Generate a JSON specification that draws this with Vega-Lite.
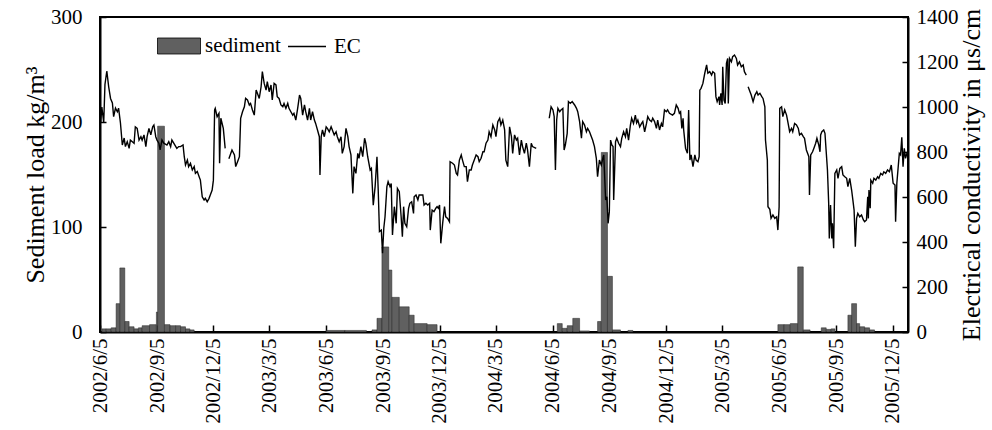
{
"$schema": "https://vega.github.io/schema/vega-lite/v6.json",
"width": 808, "height": 315,
"autosize": "none",
"padding": {"left": 100, "top": 17, "right": 84, "bottom": 98},
"config": {"font": "Liberation Serif", "view": {"stroke": "#000", "strokeWidth": 2},
  "axis": {"labelFont": "Liberation Serif", "titleFont": "Liberation Serif", "labelColor": "#000", "titleColor": "#000", "tickColor": "#000", "domainColor": "#000", "domainWidth": 2, "tickWidth": 1.5, "grid": false, "labelFlush": false, "labelOverlap": false, "titleFontWeight": "normal", "labelFontSize": 21, "titleFontSize": 26}},
"datasets": {
"ec": [
{"date":"2002-06-05","ec":1010,"seg":1},{"date":"2002-06-06","ec":930,"seg":1},{"date":"2002-06-08","ec":1000,"seg":1},{"date":"2002-06-11","ec":930,"seg":1},{"date":"2002-06-13","ec":1100,"seg":1},{"date":"2002-06-16","ec":1160,"seg":1},{"date":"2002-06-19","ec":1090,"seg":1},{"date":"2002-06-22","ec":1038,"seg":1},{"date":"2002-06-25","ec":1018,"seg":1},{"date":"2002-06-27","ec":957,"seg":1},{"date":"2002-06-30","ec":995,"seg":1},{"date":"2002-07-03","ec":979,"seg":1},{"date":"2002-07-05","ec":995,"seg":1},{"date":"2002-07-08","ec":929,"seg":1},{"date":"2002-07-11","ec":831,"seg":1},{"date":"2002-07-14","ec":862,"seg":1},{"date":"2002-07-16","ec":824,"seg":1},{"date":"2002-07-19","ec":846,"seg":1},{"date":"2002-07-22","ec":816,"seg":1},{"date":"2002-07-24","ec":853,"seg":1},{"date":"2002-07-30","ec":839,"seg":1},{"date":"2002-08-01","ec":912,"seg":1},{"date":"2002-08-04","ec":905,"seg":1},{"date":"2002-08-07","ec":853,"seg":1},{"date":"2002-08-10","ec":868,"seg":1},{"date":"2002-08-12","ec":853,"seg":1},{"date":"2002-08-15","ec":876,"seg":1},{"date":"2002-08-18","ec":824,"seg":1},{"date":"2002-08-20","ec":868,"seg":1},{"date":"2002-08-23","ec":905,"seg":1},{"date":"2002-08-26","ec":876,"seg":1},{"date":"2002-08-29","ec":912,"seg":1},{"date":"2002-08-31","ec":920,"seg":1},{"date":"2002-09-03","ec":868,"seg":1},{"date":"2002-09-05","ec":853,"seg":1},{"date":"2002-09-08","ec":839,"seg":1},{"date":"2002-09-10","ec":809,"seg":1},{"date":"2002-09-13","ec":853,"seg":1},{"date":"2002-09-16","ec":839,"seg":1},{"date":"2002-09-21","ec":831,"seg":1},{"date":"2002-09-24","ec":846,"seg":1},{"date":"2002-09-27","ec":824,"seg":1},{"date":"2002-09-29","ec":853,"seg":1},{"date":"2002-10-02","ec":839,"seg":1},{"date":"2002-10-07","ec":816,"seg":1},{"date":"2002-10-10","ec":824,"seg":1},{"date":"2002-10-13","ec":824,"seg":1},{"date":"2002-10-17","ec":831,"seg":1},{"date":"2002-10-19","ec":779,"seg":1},{"date":"2002-10-21","ec":742,"seg":1},{"date":"2002-10-24","ec":764,"seg":1},{"date":"2002-10-26","ec":735,"seg":1},{"date":"2002-10-29","ec":750,"seg":1},{"date":"2002-11-01","ec":720,"seg":1},{"date":"2002-11-04","ec":735,"seg":1},{"date":"2002-11-06","ec":705,"seg":1},{"date":"2002-11-09","ec":713,"seg":1},{"date":"2002-11-12","ec":690,"seg":1},{"date":"2002-11-14","ec":675,"seg":1},{"date":"2002-11-17","ec":601,"seg":1},{"date":"2002-11-20","ec":587,"seg":1},{"date":"2002-11-22","ec":594,"seg":1},{"date":"2002-11-25","ec":579,"seg":1},{"date":"2002-11-28","ec":594,"seg":1},{"date":"2002-11-30","ec":609,"seg":1},{"date":"2002-12-03","ec":631,"seg":1},{"date":"2002-12-05","ec":675,"seg":1},{"date":"2002-12-07","ec":987,"seg":1},{"date":"2002-12-08","ec":994,"seg":1},{"date":"2002-12-11","ec":957,"seg":1},{"date":"2002-12-14","ec":972,"seg":1},{"date":"2002-12-15","ec":750,"seg":1},{"date":"2002-12-17","ec":950,"seg":1},{"date":"2002-12-21","ec":905,"seg":1},{"date":"2002-12-24","ec":816,"seg":1},
{"date":"2002-12-30","ec":770,"seg":2},{"date":"2003-01-04","ec":809,"seg":2},{"date":"2003-01-08","ec":787,"seg":2},{"date":"2003-01-10","ec":735,"seg":2},{"date":"2003-01-13","ec":757,"seg":2},{"date":"2003-01-16","ec":779,"seg":2},{"date":"2003-01-18","ec":950,"seg":2},{"date":"2003-01-21","ec":979,"seg":2},{"date":"2003-01-24","ec":1001,"seg":2},{"date":"2003-01-26","ec":1038,"seg":2},{"date":"2003-01-29","ec":1031,"seg":2},{"date":"2003-02-01","ec":1009,"seg":2},{"date":"2003-02-03","ec":1016,"seg":2},{"date":"2003-02-06","ec":987,"seg":2},{"date":"2003-02-09","ec":964,"seg":2},{"date":"2003-02-12","ec":1075,"seg":2},{"date":"2003-02-14","ec":1061,"seg":2},{"date":"2003-02-17","ec":1038,"seg":2},{"date":"2003-02-20","ec":1090,"seg":2},{"date":"2003-02-22","ec":1157,"seg":2},{"date":"2003-02-25","ec":1105,"seg":2},{"date":"2003-02-28","ec":1075,"seg":2},{"date":"2003-03-02","ec":1113,"seg":2},{"date":"2003-03-05","ec":1068,"seg":2},{"date":"2003-03-08","ec":1098,"seg":2},{"date":"2003-03-10","ec":1031,"seg":2},{"date":"2003-03-13","ec":1105,"seg":2},{"date":"2003-03-16","ec":1098,"seg":2},{"date":"2003-03-18","ec":1046,"seg":2},{"date":"2003-03-21","ec":1038,"seg":2},{"date":"2003-03-24","ec":1009,"seg":2},{"date":"2003-03-27","ec":1001,"seg":2},{"date":"2003-03-29","ec":1016,"seg":2},{"date":"2003-04-01","ec":994,"seg":2},{"date":"2003-04-04","ec":1016,"seg":2},{"date":"2003-04-06","ec":994,"seg":2},{"date":"2003-04-09","ec":979,"seg":2},{"date":"2003-04-12","ec":964,"seg":2},{"date":"2003-04-14","ec":972,"seg":2},{"date":"2003-04-17","ec":942,"seg":2},{"date":"2003-04-20","ec":994,"seg":2},{"date":"2003-04-23","ec":1053,"seg":2},{"date":"2003-04-25","ec":1038,"seg":2},{"date":"2003-04-28","ec":964,"seg":2},{"date":"2003-05-01","ec":1009,"seg":2},{"date":"2003-05-03","ec":979,"seg":2},{"date":"2003-05-06","ec":942,"seg":2},{"date":"2003-05-09","ec":994,"seg":2},{"date":"2003-05-11","ec":942,"seg":2},{"date":"2003-05-14","ec":979,"seg":2},{"date":"2003-05-17","ec":942,"seg":2},{"date":"2003-05-19","ec":927,"seg":2},{"date":"2003-05-22","ec":898,"seg":2},{"date":"2003-05-25","ec":868,"seg":2},{"date":"2003-05-26","ec":698,"seg":2},{"date":"2003-05-28","ec":868,"seg":2},{"date":"2003-05-30","ec":898,"seg":2},{"date":"2003-06-02","ec":868,"seg":2},{"date":"2003-06-05","ec":912,"seg":2},{"date":"2003-06-07","ec":905,"seg":2},{"date":"2003-06-10","ec":890,"seg":2},{"date":"2003-06-13","ec":912,"seg":2},{"date":"2003-06-15","ec":898,"seg":2},{"date":"2003-06-18","ec":876,"seg":2},{"date":"2003-06-21","ec":890,"seg":2},{"date":"2003-06-23","ec":868,"seg":2},{"date":"2003-06-26","ec":846,"seg":2},{"date":"2003-06-29","ec":868,"seg":2},{"date":"2003-07-01","ec":794,"seg":2},{"date":"2003-07-04","ec":824,"seg":2},{"date":"2003-07-07","ec":905,"seg":2},{"date":"2003-07-10","ec":868,"seg":2},{"date":"2003-07-12","ec":824,"seg":2},{"date":"2003-07-15","ec":787,"seg":2},{"date":"2003-07-18","ec":616,"seg":2},{"date":"2003-07-20","ec":735,"seg":2},{"date":"2003-07-23","ec":705,"seg":2},{"date":"2003-07-26","ec":794,"seg":2},{"date":"2003-07-28","ec":772,"seg":2},{"date":"2003-07-31","ec":824,"seg":2},{"date":"2003-08-03","ec":779,"seg":2},{"date":"2003-08-06","ec":861,"seg":2},{"date":"2003-08-08","ec":839,"seg":2},{"date":"2003-08-11","ec":779,"seg":2},{"date":"2003-08-15","ec":720,"seg":2},{"date":"2003-08-17","ec":727,"seg":2},{"date":"2003-08-20","ec":564,"seg":2},{"date":"2003-08-23","ec":646,"seg":2},{"date":"2003-08-26","ec":779,"seg":2},{"date":"2003-08-28","ec":631,"seg":2},{"date":"2003-08-30","ec":446,"seg":2},{"date":"2003-09-02","ec":453,"seg":2},{"date":"2003-09-04","ec":350,"seg":2},{"date":"2003-09-06","ec":461,"seg":2},{"date":"2003-09-08","ec":512,"seg":2},{"date":"2003-09-11","ec":646,"seg":2},{"date":"2003-09-13","ec":668,"seg":2},{"date":"2003-09-16","ec":646,"seg":2},{"date":"2003-09-18","ec":660,"seg":2},{"date":"2003-09-20","ec":431,"seg":2},{"date":"2003-09-23","ec":557,"seg":2},{"date":"2003-09-26","ec":483,"seg":2},{"date":"2003-09-28","ec":638,"seg":2},{"date":"2003-10-01","ec":624,"seg":2},{"date":"2003-10-04","ec":512,"seg":2},{"date":"2003-10-06","ec":424,"seg":2},{"date":"2003-10-08","ec":557,"seg":2},{"date":"2003-10-10","ec":483,"seg":2},{"date":"2003-10-13","ec":468,"seg":2},{"date":"2003-10-16","ec":550,"seg":2},{"date":"2003-10-18","ec":572,"seg":2},{"date":"2003-10-21","ec":579,"seg":2},{"date":"2003-10-24","ec":527,"seg":2},{"date":"2003-10-25","ec":601,"seg":2},{"date":"2003-10-28","ec":609,"seg":2},{"date":"2003-10-31","ec":587,"seg":2},{"date":"2003-11-02","ec":609,"seg":2},{"date":"2003-11-08","ec":609,"seg":2},{"date":"2003-11-10","ec":564,"seg":2},{"date":"2003-11-13","ec":572,"seg":2},{"date":"2003-11-16","ec":564,"seg":2},{"date":"2003-11-19","ec":572,"seg":2},{"date":"2003-11-20","ec":453,"seg":2},{"date":"2003-11-23","ec":542,"seg":2},{"date":"2003-11-26","ec":535,"seg":2},{"date":"2003-11-29","ec":550,"seg":2},{"date":"2003-12-01","ec":557,"seg":2},{"date":"2003-12-03","ec":550,"seg":2},{"date":"2003-12-05","ec":564,"seg":2},{"date":"2003-12-07","ec":394,"seg":2},{"date":"2003-12-10","ec":483,"seg":2},{"date":"2003-12-13","ec":557,"seg":2},{"date":"2003-12-15","ec":512,"seg":2},{"date":"2003-12-18","ec":505,"seg":2},{"date":"2003-12-21","ec":490,"seg":2},{"date":"2003-12-22","ec":757,"seg":2},{"date":"2003-12-26","ec":750,"seg":2},{"date":"2003-12-29","ec":742,"seg":2},{"date":"2004-01-01","ec":705,"seg":2},{"date":"2004-01-03","ec":698,"seg":2},{"date":"2004-01-06","ec":764,"seg":2},{"date":"2004-01-09","ec":787,"seg":2},{"date":"2004-01-11","ec":764,"seg":2},{"date":"2004-01-14","ec":735,"seg":2},{"date":"2004-01-17","ec":735,"seg":2},{"date":"2004-01-19","ec":668,"seg":2},{"date":"2004-01-22","ec":720,"seg":2},{"date":"2004-01-25","ec":720,"seg":2},{"date":"2004-01-27","ec":742,"seg":2},{"date":"2004-01-30","ec":764,"seg":2},{"date":"2004-02-02","ec":787,"seg":2},{"date":"2004-02-05","ec":779,"seg":2},{"date":"2004-02-07","ec":757,"seg":2},{"date":"2004-02-10","ec":772,"seg":2},{"date":"2004-02-13","ec":801,"seg":2},{"date":"2004-02-15","ec":801,"seg":2},{"date":"2004-02-18","ec":839,"seg":2},{"date":"2004-02-21","ec":853,"seg":2},{"date":"2004-02-23","ec":890,"seg":2},{"date":"2004-02-26","ec":868,"seg":2},{"date":"2004-02-29","ec":920,"seg":2},{"date":"2004-03-03","ec":898,"seg":2},{"date":"2004-03-05","ec":868,"seg":2},{"date":"2004-03-08","ec":935,"seg":2},{"date":"2004-03-11","ec":950,"seg":2},{"date":"2004-03-13","ec":920,"seg":2},{"date":"2004-03-16","ec":942,"seg":2},{"date":"2004-03-19","ec":898,"seg":2},{"date":"2004-03-21","ec":764,"seg":2},{"date":"2004-03-24","ec":735,"seg":2},{"date":"2004-03-27","ec":912,"seg":2},{"date":"2004-03-30","ec":868,"seg":2},{"date":"2004-04-01","ec":794,"seg":2},{"date":"2004-04-04","ec":876,"seg":2},{"date":"2004-04-07","ec":853,"seg":2},{"date":"2004-04-09","ec":861,"seg":2},{"date":"2004-04-12","ec":787,"seg":2},{"date":"2004-04-15","ec":853,"seg":2},{"date":"2004-04-17","ec":824,"seg":2},{"date":"2004-04-20","ec":794,"seg":2},{"date":"2004-04-23","ec":839,"seg":2},{"date":"2004-04-25","ec":809,"seg":2},{"date":"2004-04-28","ec":735,"seg":2},{"date":"2004-05-01","ec":839,"seg":2},{"date":"2004-05-03","ec":824,"seg":2},{"date":"2004-05-09","ec":816,"seg":2},
{"date":"2004-05-30","ec":950,"seg":3},{"date":"2004-06-02","ec":1001,"seg":3},{"date":"2004-06-05","ec":987,"seg":3},{"date":"2004-06-07","ec":957,"seg":3},{"date":"2004-06-09","ec":720,"seg":3},{"date":"2004-06-11","ec":942,"seg":3},{"date":"2004-06-13","ec":994,"seg":3},{"date":"2004-06-16","ec":979,"seg":3},{"date":"2004-06-18","ec":987,"seg":3},{"date":"2004-06-21","ec":994,"seg":3},{"date":"2004-06-23","ec":809,"seg":3},{"date":"2004-06-25","ec":831,"seg":3},{"date":"2004-06-28","ec":883,"seg":3},{"date":"2004-06-30","ec":1024,"seg":3},{"date":"2004-07-03","ec":1016,"seg":3},{"date":"2004-07-06","ec":1024,"seg":3},{"date":"2004-07-10","ec":1009,"seg":3},{"date":"2004-07-13","ec":994,"seg":3},{"date":"2004-07-15","ec":979,"seg":3},{"date":"2004-07-18","ec":935,"seg":3},{"date":"2004-07-21","ec":861,"seg":3},{"date":"2004-07-23","ec":935,"seg":3},{"date":"2004-07-26","ec":920,"seg":3},{"date":"2004-07-29","ec":890,"seg":3},{"date":"2004-07-31","ec":905,"seg":3},{"date":"2004-08-03","ec":890,"seg":3},{"date":"2004-08-06","ec":868,"seg":3},{"date":"2004-08-08","ec":853,"seg":3},{"date":"2004-08-11","ec":824,"seg":3},{"date":"2004-08-14","ec":772,"seg":3},{"date":"2004-08-16","ec":690,"seg":3},{"date":"2004-08-19","ec":764,"seg":3},{"date":"2004-08-22","ec":742,"seg":3},{"date":"2004-08-25","ec":779,"seg":3},{"date":"2004-08-26","ec":787,"seg":3},{"date":"2004-08-29","ec":587,"seg":3},{"date":"2004-08-31","ec":601,"seg":3},{"date":"2004-09-02","ec":483,"seg":3},{"date":"2004-09-04","ec":535,"seg":3},{"date":"2004-09-06","ec":853,"seg":3},{"date":"2004-09-08","ec":831,"seg":3},{"date":"2004-09-10","ec":824,"seg":3},{"date":"2004-09-11","ec":587,"seg":3},{"date":"2004-09-14","ec":846,"seg":3},{"date":"2004-09-16","ec":861,"seg":3},{"date":"2004-09-19","ec":839,"seg":3},{"date":"2004-09-22","ec":824,"seg":3},{"date":"2004-09-24","ec":861,"seg":3},{"date":"2004-09-27","ec":890,"seg":3},{"date":"2004-09-30","ec":868,"seg":3},{"date":"2004-10-02","ec":905,"seg":3},{"date":"2004-10-05","ec":853,"seg":3},{"date":"2004-10-08","ec":920,"seg":3},{"date":"2004-10-10","ec":950,"seg":3},{"date":"2004-10-13","ec":927,"seg":3},{"date":"2004-10-16","ec":964,"seg":3},{"date":"2004-10-18","ec":930,"seg":3},{"date":"2004-10-20","ec":942,"seg":3},{"date":"2004-10-23","ec":912,"seg":3},{"date":"2004-10-26","ec":927,"seg":3},{"date":"2004-10-28","ec":935,"seg":3},{"date":"2004-10-31","ec":890,"seg":3},{"date":"2004-11-03","ec":927,"seg":3},{"date":"2004-11-05","ec":957,"seg":3},{"date":"2004-11-08","ec":942,"seg":3},{"date":"2004-11-11","ec":935,"seg":3},{"date":"2004-11-13","ec":950,"seg":3},{"date":"2004-11-16","ec":935,"seg":3},{"date":"2004-11-19","ec":905,"seg":3},{"date":"2004-11-21","ec":942,"seg":3},{"date":"2004-11-24","ec":898,"seg":3},{"date":"2004-11-27","ec":927,"seg":3},{"date":"2004-11-29","ec":912,"seg":3},{"date":"2004-12-02","ec":987,"seg":3},{"date":"2004-12-05","ec":979,"seg":3},{"date":"2004-12-07","ec":987,"seg":3},{"date":"2004-12-10","ec":972,"seg":3},{"date":"2004-12-15","ec":964,"seg":3},{"date":"2004-12-18","ec":972,"seg":3},{"date":"2004-12-21","ec":1009,"seg":3},{"date":"2004-12-24","ec":994,"seg":3},{"date":"2004-12-26","ec":972,"seg":3},{"date":"2004-12-28","ec":979,"seg":3},{"date":"2004-12-30","ec":905,"seg":3},{"date":"2005-01-01","ec":950,"seg":3},{"date":"2005-01-02","ec":898,"seg":3},{"date":"2005-01-05","ec":816,"seg":3},{"date":"2005-01-06","ec":809,"seg":3},{"date":"2005-01-08","ec":794,"seg":3},{"date":"2005-01-10","ec":987,"seg":3},{"date":"2005-01-12","ec":764,"seg":3},{"date":"2005-01-14","ec":787,"seg":3},{"date":"2005-01-17","ec":735,"seg":3},{"date":"2005-01-20","ec":787,"seg":3},{"date":"2005-01-22","ec":764,"seg":3},{"date":"2005-01-25","ec":757,"seg":3},{"date":"2005-01-27","ec":779,"seg":3},{"date":"2005-01-28","ec":1075,"seg":3},{"date":"2005-01-30","ec":1083,"seg":3},{"date":"2005-02-02","ec":1105,"seg":3},{"date":"2005-02-05","ec":1150,"seg":3},{"date":"2005-02-08","ec":1187,"seg":3},{"date":"2005-02-10","ec":1150,"seg":3},{"date":"2005-02-13","ec":1157,"seg":3},{"date":"2005-02-16","ec":1142,"seg":3},{"date":"2005-02-18","ec":1157,"seg":3},{"date":"2005-02-21","ec":1150,"seg":3},{"date":"2005-02-23","ec":1046,"seg":3},{"date":"2005-02-25","ec":1024,"seg":3},{"date":"2005-02-28","ec":1046,"seg":3},{"date":"2005-03-01","ec":1009,"seg":3},{"date":"2005-03-03","ec":1061,"seg":3},{"date":"2005-03-05","ec":1009,"seg":3},{"date":"2005-03-06","ec":1179,"seg":3},{"date":"2005-03-08","ec":1031,"seg":3},{"date":"2005-03-10","ec":1016,"seg":3},{"date":"2005-03-12","ec":1194,"seg":3},{"date":"2005-03-14","ec":1216,"seg":3},{"date":"2005-03-15","ec":1016,"seg":3},{"date":"2005-03-17","ec":1216,"seg":3},{"date":"2005-03-20","ec":1201,"seg":3},{"date":"2005-03-22","ec":1224,"seg":3},{"date":"2005-03-25","ec":1231,"seg":3},{"date":"2005-03-28","ec":1216,"seg":3},{"date":"2005-03-30","ec":1187,"seg":3},{"date":"2005-04-02","ec":1201,"seg":3},{"date":"2005-04-05","ec":1179,"seg":3},{"date":"2005-04-08","ec":1187,"seg":3},{"date":"2005-04-10","ec":1157,"seg":3},{"date":"2005-04-13","ec":1142,"seg":3},
{"date":"2005-04-16","ec":1090,"seg":4},{"date":"2005-04-19","ec":1068,"seg":4},{"date":"2005-04-21","ec":1053,"seg":4},{"date":"2005-04-24","ec":1024,"seg":4},{"date":"2005-04-27","ec":1053,"seg":4},{"date":"2005-04-30","ec":1068,"seg":4},{"date":"2005-05-02","ec":1053,"seg":4},{"date":"2005-05-05","ec":1061,"seg":4},{"date":"2005-05-08","ec":1046,"seg":4},{"date":"2005-05-10","ec":1038,"seg":4},{"date":"2005-05-13","ec":1001,"seg":4},{"date":"2005-05-14","ec":853,"seg":4},{"date":"2005-05-17","ec":764,"seg":4},{"date":"2005-05-18","ec":557,"seg":4},{"date":"2005-05-21","ec":545,"seg":4},{"date":"2005-05-23","ec":505,"seg":4},{"date":"2005-05-26","ec":520,"seg":4},{"date":"2005-05-29","ec":505,"seg":4},{"date":"2005-06-01","ec":512,"seg":4},{"date":"2005-06-03","ec":453,"seg":4},{"date":"2005-06-05","ec":557,"seg":4},{"date":"2005-06-06","ec":994,"seg":4},{"date":"2005-06-09","ec":1001,"seg":4},{"date":"2005-06-11","ec":957,"seg":4},{"date":"2005-06-14","ec":987,"seg":4},{"date":"2005-06-17","ec":964,"seg":4},{"date":"2005-06-19","ec":935,"seg":4},{"date":"2005-06-22","ec":890,"seg":4},{"date":"2005-06-25","ec":905,"seg":4},{"date":"2005-06-27","ec":890,"seg":4},{"date":"2005-06-30","ec":927,"seg":4},{"date":"2005-07-03","ec":920,"seg":4},{"date":"2005-07-06","ec":905,"seg":4},{"date":"2005-07-08","ec":876,"seg":4},{"date":"2005-07-11","ec":883,"seg":4},{"date":"2005-07-14","ec":868,"seg":4},{"date":"2005-07-16","ec":861,"seg":4},{"date":"2005-07-19","ec":809,"seg":4},{"date":"2005-07-22","ec":787,"seg":4},{"date":"2005-07-23","ec":779,"seg":4},{"date":"2005-07-24","ec":609,"seg":4},{"date":"2005-07-26","ec":787,"seg":4},{"date":"2005-07-29","ec":801,"seg":4},{"date":"2005-07-31","ec":816,"seg":4},{"date":"2005-08-03","ec":839,"seg":4},{"date":"2005-08-05","ec":861,"seg":4},{"date":"2005-08-08","ec":831,"seg":4},{"date":"2005-08-10","ec":801,"seg":4},{"date":"2005-08-11","ec":876,"seg":4},{"date":"2005-08-13","ec":890,"seg":4},{"date":"2005-08-16","ec":898,"seg":4},{"date":"2005-08-18","ec":883,"seg":4},{"date":"2005-08-20","ec":801,"seg":4},{"date":"2005-08-22","ec":720,"seg":4},{"date":"2005-08-24","ec":572,"seg":4},{"date":"2005-08-25","ec":416,"seg":4},{"date":"2005-08-27","ec":564,"seg":4},{"date":"2005-08-29","ec":416,"seg":4},{"date":"2005-08-30","ec":483,"seg":4},{"date":"2005-09-01","ec":372,"seg":4},{"date":"2005-09-03","ec":705,"seg":4},{"date":"2005-09-06","ec":720,"seg":4},{"date":"2005-09-08","ec":683,"seg":4},{"date":"2005-09-11","ec":727,"seg":4},{"date":"2005-09-14","ec":735,"seg":4},{"date":"2005-09-16","ec":698,"seg":4},{"date":"2005-09-19","ec":690,"seg":4},{"date":"2005-09-22","ec":683,"seg":4},{"date":"2005-09-24","ec":646,"seg":4},{"date":"2005-09-27","ec":683,"seg":4},{"date":"2005-09-30","ec":631,"seg":4},{"date":"2005-10-02","ec":587,"seg":4},{"date":"2005-10-04","ec":542,"seg":4},{"date":"2005-10-06","ec":379,"seg":4},{"date":"2005-10-08","ec":505,"seg":4},{"date":"2005-10-10","ec":527,"seg":4},{"date":"2005-10-13","ec":512,"seg":4},{"date":"2005-10-16","ec":520,"seg":4},{"date":"2005-10-19","ec":498,"seg":4},{"date":"2005-10-21","ec":490,"seg":4},{"date":"2005-10-24","ec":498,"seg":4},{"date":"2005-10-26","ec":601,"seg":4},{"date":"2005-10-27","ec":505,"seg":4},{"date":"2005-10-28","ec":631,"seg":4},{"date":"2005-10-30","ec":550,"seg":4},{"date":"2005-10-31","ec":675,"seg":4},{"date":"2005-11-03","ec":661,"seg":4},{"date":"2005-11-05","ec":683,"seg":4},{"date":"2005-11-08","ec":675,"seg":4},{"date":"2005-11-11","ec":690,"seg":4},{"date":"2005-11-13","ec":683,"seg":4},{"date":"2005-11-16","ec":705,"seg":4},{"date":"2005-11-19","ec":698,"seg":4},{"date":"2005-11-21","ec":712,"seg":4},{"date":"2005-11-24","ec":705,"seg":4},{"date":"2005-11-27","ec":720,"seg":4},{"date":"2005-11-30","ec":712,"seg":4},{"date":"2005-12-03","ec":742,"seg":4},{"date":"2005-12-06","ec":661,"seg":4},{"date":"2005-12-09","ec":653,"seg":4},{"date":"2005-12-10","ec":490,"seg":4},{"date":"2005-12-12","ec":661,"seg":4},{"date":"2005-12-16","ec":794,"seg":4},{"date":"2005-12-18","ec":787,"seg":4},{"date":"2005-12-20","ec":865,"seg":4},{"date":"2005-12-22","ec":735,"seg":4},{"date":"2005-12-24","ec":816,"seg":4},{"date":"2005-12-26","ec":772,"seg":4},{"date":"2005-12-29","ec":801,"seg":4}
],
"sed": [
{"date":"2002-06-08","end":"2002-06-15","sed":3},{"date":"2002-06-15","end":"2002-06-23","sed":3},{"date":"2002-06-23","end":"2002-07-01","sed":4},{"date":"2002-07-01","end":"2002-07-07","sed":27},{"date":"2002-07-07","end":"2002-07-15","sed":61},{"date":"2002-07-15","end":"2002-07-22","sed":10},{"date":"2002-07-22","end":"2002-07-30","sed":5},{"date":"2002-07-30","end":"2002-08-06","sed":3},{"date":"2002-08-06","end":"2002-08-12","sed":4},{"date":"2002-08-12","end":"2002-08-24","sed":6},{"date":"2002-08-24","end":"2002-09-04","sed":7},{"date":"2002-09-04","end":"2002-09-06","sed":19},{"date":"2002-09-06","end":"2002-09-17","sed":196},{"date":"2002-09-17","end":"2002-09-26","sed":7},{"date":"2002-09-26","end":"2002-10-05","sed":6},{"date":"2002-10-05","end":"2002-10-13","sed":6},{"date":"2002-10-13","end":"2002-10-21","sed":5},{"date":"2002-10-21","end":"2002-10-28","sed":3},{"date":"2002-10-28","end":"2002-11-04","sed":2},
{"date":"2003-06-05","end":"2003-07-05","sed":1.5},{"date":"2003-07-05","end":"2003-08-09","sed":1.5},{"date":"2003-08-18","end":"2003-08-26","sed":2},{"date":"2003-08-26","end":"2003-09-03","sed":13},{"date":"2003-09-03","end":"2003-09-14","sed":81},{"date":"2003-09-14","end":"2003-09-19","sed":59},{"date":"2003-09-19","end":"2003-10-01","sed":33},{"date":"2003-10-01","end":"2003-10-17","sed":24},{"date":"2003-10-17","end":"2003-10-25","sed":16},{"date":"2003-10-25","end":"2003-11-15","sed":8},{"date":"2003-11-15","end":"2003-12-01","sed":7},
{"date":"2004-06-12","end":"2004-06-20","sed":8},{"date":"2004-06-20","end":"2004-06-28","sed":3.5},{"date":"2004-06-28","end":"2004-07-07","sed":6},{"date":"2004-07-07","end":"2004-07-18","sed":13},{"date":"2004-07-18","end":"2004-08-03","sed":1},{"date":"2004-08-16","end":"2004-08-22","sed":10},{"date":"2004-08-22","end":"2004-09-01","sed":171},{"date":"2004-09-01","end":"2004-09-09","sed":53},{"date":"2004-09-09","end":"2004-09-22","sed":2},{"date":"2004-10-04","end":"2004-10-12","sed":1.5},
{"date":"2005-06-03","end":"2005-06-13","sed":7},{"date":"2005-06-13","end":"2005-06-23","sed":7},{"date":"2005-06-23","end":"2005-07-05","sed":8},{"date":"2005-07-05","end":"2005-07-14","sed":62},{"date":"2005-07-14","end":"2005-07-25","sed":2},{"date":"2005-08-12","end":"2005-08-20","sed":4},{"date":"2005-08-20","end":"2005-08-28","sed":2.5},{"date":"2005-08-28","end":"2005-09-03","sed":3},{"date":"2005-09-24","end":"2005-09-30","sed":16},{"date":"2005-09-30","end":"2005-10-08","sed":27},{"date":"2005-10-08","end":"2005-10-13","sed":8},{"date":"2005-10-13","end":"2005-10-21","sed":5},{"date":"2005-10-21","end":"2005-10-29","sed":4},{"date":"2005-10-29","end":"2005-11-06","sed":2}
]
},
"encoding": {
  "x": {"field": "date", "type": "temporal",
    "scale": {"type": "utc", "domain": [{"year":2002,"month":6,"date":5,"utc":true},{"year":2005,"month":12,"date":30,"utc":true}]},
    "axis": {"title": null, "values": [{"year":2002,"month":6,"date":5,"utc":true},{"year":2002,"month":9,"date":5,"utc":true},{"year":2002,"month":12,"date":5,"utc":true},{"year":2003,"month":3,"date":5,"utc":true},{"year":2003,"month":6,"date":5,"utc":true},{"year":2003,"month":9,"date":5,"utc":true},{"year":2003,"month":12,"date":5,"utc":true},{"year":2004,"month":3,"date":5,"utc":true},{"year":2004,"month":6,"date":5,"utc":true},{"year":2004,"month":9,"date":5,"utc":true},{"year":2004,"month":12,"date":5,"utc":true},{"year":2005,"month":3,"date":5,"utc":true},{"year":2005,"month":6,"date":5,"utc":true},{"year":2005,"month":9,"date":5,"utc":true},{"year":2005,"month":12,"date":5,"utc":true}],
      "labelExpr": "utcFormat(datum.value, '%Y/%-m/%-d')", "labelAngle": 270, "labelAlign": "right", "labelBaseline": "middle", "tickSize": -7, "labelPadding": 13}}
},
"layer": [
  {"data": {"name": "sed"},
   "mark": {"type": "bar", "stroke": "#222", "strokeWidth": 0.5},
   "encoding": {
     "x2": {"field": "end"},
     "y": {"field": "sed", "type": "quantitative", "scale": {"domain": [0, 300], "nice": false},
       "axis": {"orient": "left", "values": [0, 100, 200, 300], "title": "Sediment load kg/m³", "tickSize": -6, "labelPadding": 24, "titlePadding": 2}},
     "y2": {"datum": 0},
     "fill": {"datum": "sediment", "scale": {"range": ["#606060"]},
       "legend": {"title": null, "orient": "none", "legendX": 57, "legendY": 7, "padding": 0, "symbolType": "M-1,-0.372H1V0.372H-1Z", "symbolSize": 1849, "symbolStrokeColor": "#000", "symbolStrokeWidth": 0.8, "labelFontSize": 21, "labelOffset": 4, "labelColor": "#000", "labelFont": "Liberation Serif"}}
   }},
  {"data": {"name": "ec"},
   "mark": {"type": "line", "strokeWidth": 1.4},
   "encoding": {
     "y": {"field": "ec", "type": "quantitative", "scale": {"domain": [0, 1400], "nice": false},
       "axis": {"orient": "right", "values": [0, 200, 400, 600, 800, 1000, 1200, 1400], "format": "d", "title": "Electrical conductivity in μs/cm", "titleAngle": 270, "titleBaseline": "top", "tickSize": -6, "labelPadding": 14, "titlePadding": 0}},
     "detail": {"field": "seg", "type": "nominal"},
     "stroke": {"datum": "EC", "scale": {"range": ["#000"]},
       "legend": {"title": null, "orient": "none", "legendX": 187, "legendY": 9.5, "padding": 0, "symbolType": "stroke", "symbolSize": 1444, "symbolStrokeWidth": 1.5, "symbolStrokeColor": "#000", "labelFontSize": 21, "labelOffset": 7, "labelColor": "#000", "labelFont": "Liberation Serif"}}
   }}
],
"resolve": {"scale": {"y": "independent"}}
}
